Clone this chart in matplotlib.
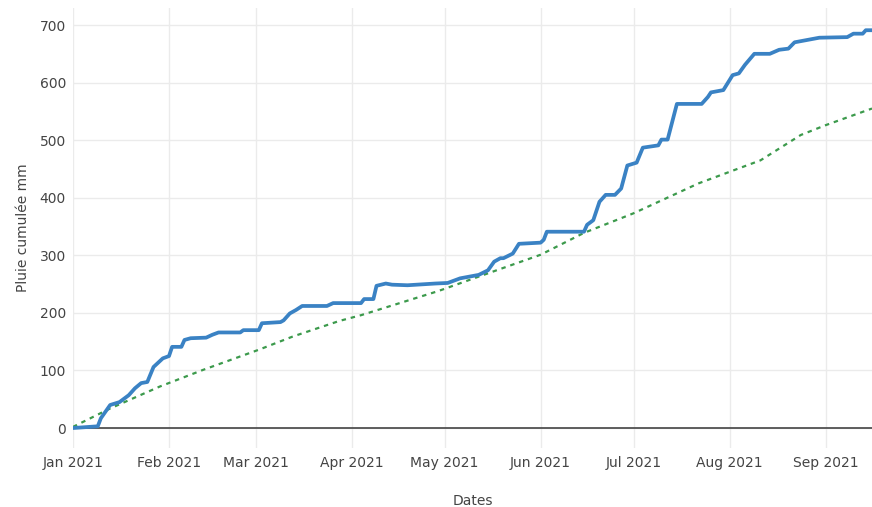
import matplotlib
matplotlib.use("Agg")
import matplotlib.pyplot as plt
import numpy as np

# pluie cumulée observée (jours depuis le 1er janvier 2021, mm)
jours_obs = [0, 8, 9, 12, 15, 18, 20, 22, 24, 26, 29, 31, 32, 35, 36, 38, 43, 45, 47,
             54, 55, 60, 61, 67, 68, 70, 72, 74, 82, 84, 93, 94, 97, 98, 101, 103, 108,
             117, 121, 125, 127, 131, 134, 136, 138, 139, 142, 144, 151, 152, 153, 165,
             166, 168, 170, 172, 175, 177, 179, 182, 184, 189, 190, 192, 195, 203, 205,
             206, 210, 213, 215, 217, 220, 225, 228, 231, 233, 238, 241, 250, 252, 255,
             256, 258]
pluie_obs = [0, 3, 17, 40, 45, 57, 69, 78, 80, 106, 121, 125, 141, 141, 153, 156, 157,
             162, 166, 166, 170, 170, 182, 184, 187, 199, 205, 212, 212, 217, 217, 224,
             224, 247, 251, 249, 248, 251, 252, 260, 262, 266, 274, 289, 295, 295, 303,
             320, 322, 327, 341, 341, 353, 361, 393, 405, 405, 416, 456, 461, 487, 491,
             501, 501, 563, 563, 575, 583, 587, 613, 616, 631, 650, 650, 657, 659, 670,
             675, 678, 679, 685, 685, 691, 691]

# pluie cumulée normale
jours_norm = [0, 12, 28, 42, 60, 71, 86, 93, 118, 131, 151, 165, 181, 202, 212, 222,
              235, 243, 258]
pluie_norm = [2, 34, 72, 101, 136, 159, 186, 196, 238, 263, 301, 339, 373, 425, 445,
              465, 509, 526, 555]

mois = ["2021-%02d-01" % m for m in range(1, 10)]
mois_labels = ["Jan 2021", "Feb 2021", "Mar 2021", "Apr 2021", "May 2021",
               "Jun 2021", "Jul 2021", "Aug 2021", "Sep 2021"]

debut = np.datetime64("2021-01-01")
dates_obs = debut + np.array(jours_obs).astype("timedelta64[D]")
dates_norm = debut + np.array(jours_norm).astype("timedelta64[D]")

fig = plt.figure(figsize=(8.72, 5.07), dpi=100)
ax = fig.add_axes([73 / 872, 59 / 507, 799 / 872, 440 / 507])

ax.plot(dates_norm, pluie_norm, color="#3c9a4c", lw=1.6, linestyle=(0, (2, 2.2)), zorder=3)
ax.plot(dates_obs, pluie_obs, color="#3a82c4", lw=2.7, solid_joinstyle="round", zorder=4)

ax.axhline(0, color="#444444", lw=1.2, zorder=2)

ax.set_xlim(debut, debut + np.timedelta64(258, "D"))
ax.set_ylim(-34.7, 729.6)
ax.set_yticks(range(0, 701, 100))
ax.set_xticks([np.datetime64(m) for m in mois])
ax.set_xticklabels(mois_labels)

ax.grid(True, color="#ebebeb", lw=1)
ax.set_axisbelow(True)
for s in ax.spines.values():
    s.set_visible(False)
ax.tick_params(length=0, colors="#444444", labelsize=10, pad=5)
ax.tick_params(axis="x", pad=6)

ax.set_xlabel("Dates", fontsize=10, color="#444444", labelpad=17)
ax.set_ylabel("Pluie cumulée mm", fontsize=10, color="#444444", labelpad=7)

fig.savefig("out.png", dpi=100)
